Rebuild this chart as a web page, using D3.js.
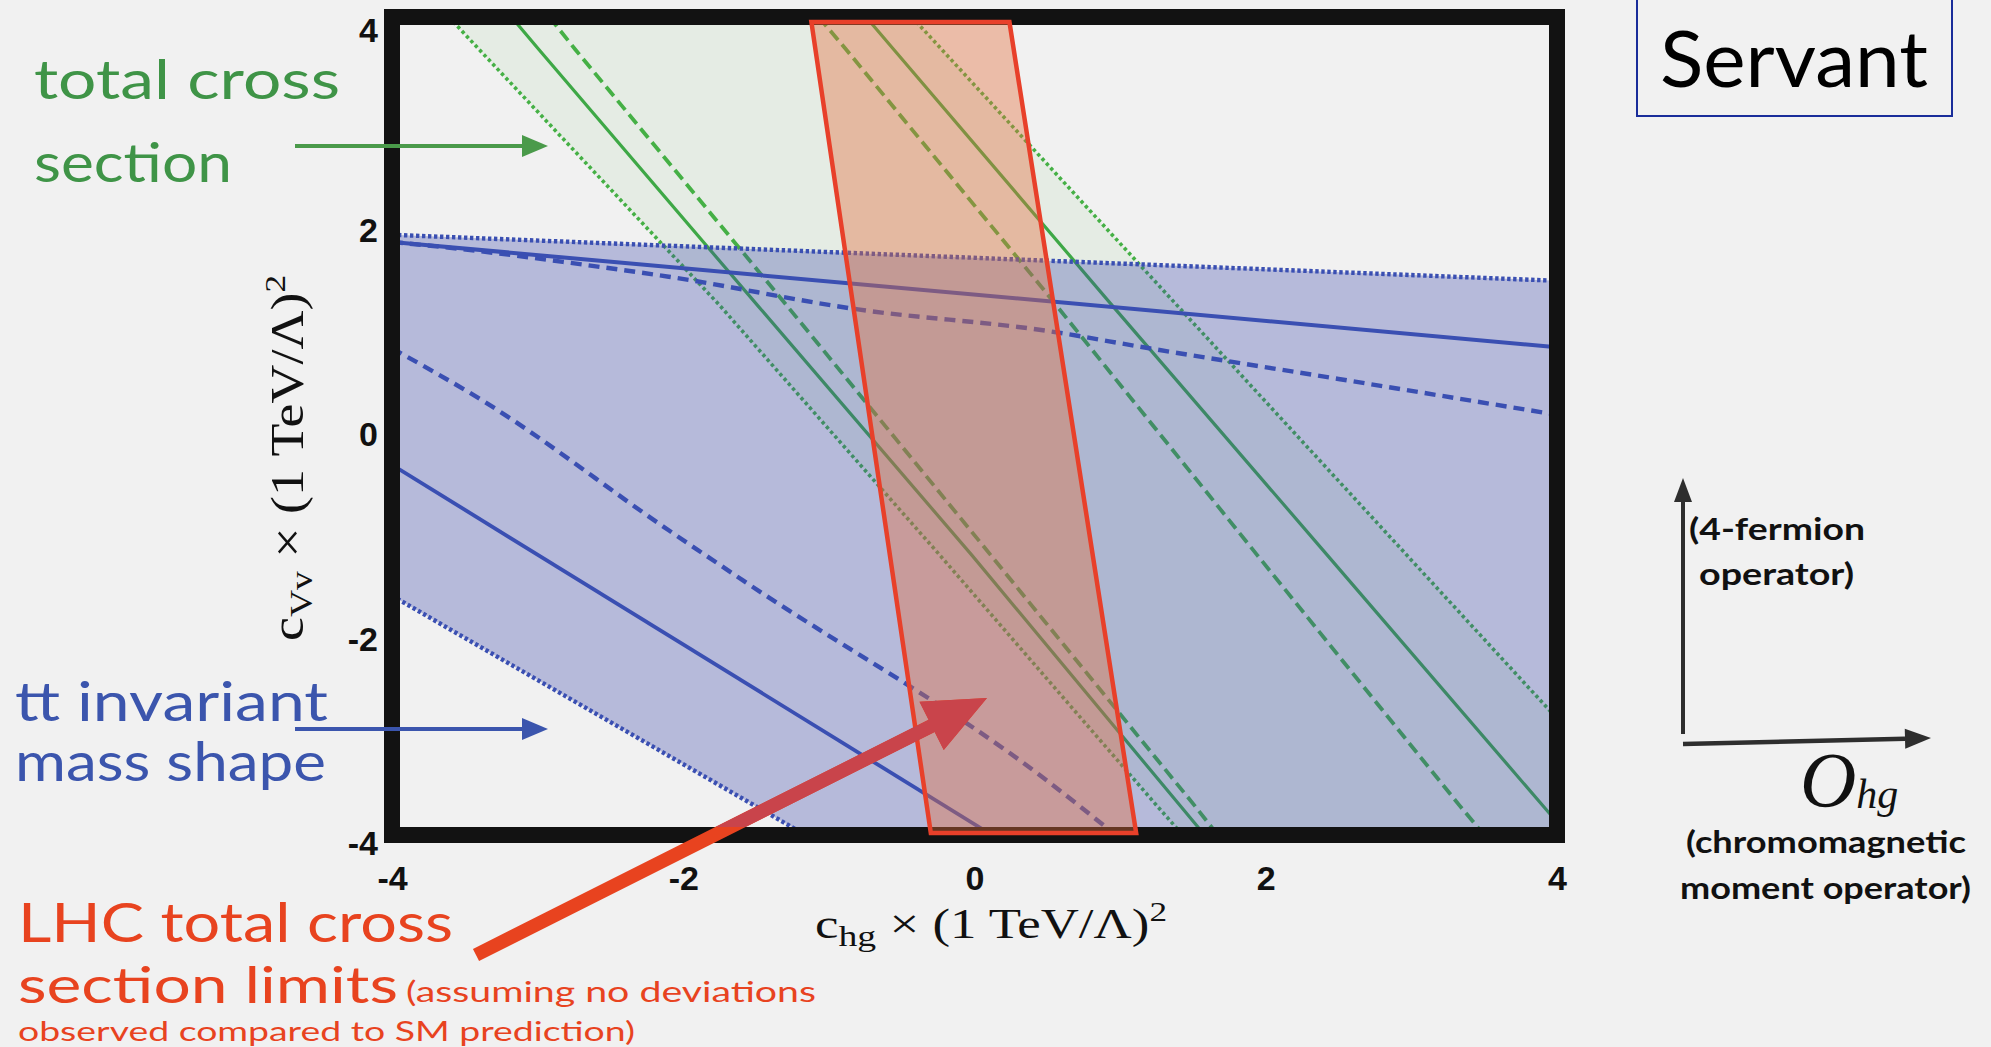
<!DOCTYPE html>
<html>
<head>
<meta charset="utf-8">
<script src="https://cdn.jsdelivr.net/npm/d3@7"></script>
<style>
  html, body { margin: 0; padding: 0; background: #f1f1f1; }
  svg { display: block; }
</style>
</head>
<body>
<svg id="chart" width="1991" height="1047"></svg>
<script>
// ---- axis ticks ----
const xTicks = [-4, -2, 0, 2, 4];
const yTicks = [-4, -2, 0, 2, 4];

// ---- t-tbar invariant mass shape contours: [c_hg, c_Vv] ----
const massUpperDotted  = [[-4, 1.87], [4, 1.42]];
const massUpperSolid   = [[-4, 1.80], [4, 0.77]];
const massUpperDashed  = [[-4, 1.80], [-3.4, 1.71], [-2.8, 1.60], [-2.1, 1.46], [-0.8, 1.14], [0.5, 0.93], [1.2, 0.76], [2.5, 0.46], [4, 0.11]];
const massLowerDashed  = [[-4, 0.76], [-3.38, 0.25], [-2.1, -1.02], [-1.59, -1.51], [0.49, -3.46], [0.97, -4]];
const massLowerSolid   = [[-4, -0.38], [0.12, -4]];
const massLowerDotted  = [[-4, -1.66], [-1.16, -4]];

// ---- Tevatron total cross section contours: [c_hg, c_Vv] ----
const xsecLeftDotted   = [[-3.61, 4], [-3.40, 3.68], [-1.75, 1.18], [-0.24, -1.26], [1.25, -3.71], [1.43, -4]];
const xsecLeftSolid    = [[-3.18, 4], [-2.99, 3.68], [-1.49, 1.18], [-0.02, -1.26], [1.41, -3.71], [1.58, -4]];
const xsecLeftDashed   = [[-2.92, 4], [-2.74, 3.68], [-1.29, 1.18], [0.11, -1.26], [1.51, -3.71], [1.67, -4]];
const xsecRightDashed  = [[-1.07, 4], [-0.88, 3.68], [0.46, 1.36], [1.94, -1.26], [3.33, -3.71], [3.50, -4]];
const xsecRightSolid   = [[-0.745, 4], [-0.553, 3.68], [0.945, 1.18], [2.421, -1.26], [4.076, -4]];
const xsecRightDotted  = [[-0.43, 4], [4, -2.86]];

// ---- LHC total cross section band: [c_hg, c_Vv] ----
const lhcBand = [[-1.12, 3.95], [0.24, 3.95], [1.11, -3.98], [-0.30, -3.98]];

// ---- colours ----
const C = {
  bg: "#f1f1f1",
  frame: "#121212",
  blueLine: "#3a4fb2",
  blueFill: "rgba(60,70,170,0.32)",
  greenLine: "#45b045",
  greenSolid: "#3ea846",
  greenFill: "rgba(110,190,100,0.09)",
  redLine: "#e8402a",
  redFill: "rgba(228,110,60,0.40)",
  greenText: "#3f9447",
  blueText: "#3b55ad",
  redText: "#e8431f",
  redArrowIn: "#c9444b"
};

const svg = d3.select("#chart");
svg.append("rect").attr("width", 1991).attr("height", 1047).attr("fill", C.bg);

const x = d3.scaleLinear().domain([-4, 4]).range([392, 1557]);
const y = d3.scaleLinear().domain([-4, 4]).range([835, 17]);
const line = d3.line().x(d => x(d[0])).y(d => y(d[1]));
const smooth = d3.line().x(d => x(d[0])).y(d => y(d[1])).curve(d3.curveMonotoneX);

const defs = svg.append("defs");
defs.append("clipPath").attr("id", "plotClip")
  .append("rect").attr("x", x(-4)).attr("y", y(4))
  .attr("width", x(4) - x(-4)).attr("height", y(-4) - y(4));
defs.append("clipPath").attr("id", "innerClip")
  .append("rect").attr("x", x(-4) + 8).attr("y", y(4) + 8)
  .attr("width", x(4) - x(-4) - 16).attr("height", y(-4) - y(4) - 16);

const plot = svg.append("g").attr("clip-path", "url(#plotClip)");
const [x0, x1] = x.domain();
const [y0] = y.domain();

// green band (total cross section)
const greenArea = xsecLeftDotted.concat([[x1, y0]], xsecRightDotted.slice().reverse());
plot.append("path").attr("d", line(greenArea) + "Z").attr("fill", C.greenFill);

const greenStyles = [
  [xsecLeftDotted, "3.4,3", 3.6, C.greenLine],
  [xsecLeftSolid, null, 3.2, C.greenSolid],
  [xsecLeftDashed, "12,6", 3.8, C.greenLine],
  [xsecRightDashed, "12,6", 3.8, C.greenLine],
  [xsecRightSolid, null, 3.2, C.greenSolid],
  [xsecRightDotted, "3.4,3", 3.6, C.greenLine]
];
greenStyles.forEach(([pts, dash, w, col]) => {
  plot.append("path").attr("d", line(pts)).attr("fill", "none")
    .attr("stroke", col).attr("stroke-width", w)
    .attr("stroke-dasharray", dash);
});

// blue band (invariant mass shape)
const blueArea = massUpperDotted.concat([[x1, y0]], massLowerDotted.slice().reverse());
plot.append("path").attr("d", line(blueArea) + "Z").attr("fill", C.blueFill);

const blueStyles = [
  [massUpperDotted, "3.4,2.6", 4.4],
  [massUpperSolid, null, 4],
  [massUpperDashed, "11,7", 4.4],
  [massLowerDashed, "11,7", 4.4],
  [massLowerSolid, null, 3.8],
  [massLowerDotted, "3.4,2.6", 4.4]
];
blueStyles.forEach(([pts, dash, w]) => {
  plot.append("path").attr("d", smooth(pts)).attr("fill", "none")
    .attr("stroke", C.blueLine).attr("stroke-width", w)
    .attr("stroke-dasharray", dash);
});

// frame
svg.append("rect")
  .attr("x", x(-4)).attr("y", y(4))
  .attr("width", x(4) - x(-4)).attr("height", y(-4) - y(4))
  .attr("fill", "none").attr("stroke", C.frame).attr("stroke-width", 16);

// LHC band
svg.append("path").attr("d", line(lhcBand) + "Z")
  .attr("fill", C.redFill).attr("stroke", C.redLine)
  .attr("stroke-width", 4.5).attr("stroke-linejoin", "miter");

// ticks
const tickFont = "'Liberation Sans Narrow', 'Liberation Sans', Arial, sans-serif";
const xAxis = svg.append("g").attr("transform", "translate(0,866)")
  .call(d3.axisBottom(x).tickValues(xTicks).tickSize(0).tickPadding(0).tickFormat(d => String(d)));
xAxis.select(".domain").remove();
xAxis.selectAll("text").attr("font-family", tickFont).attr("font-weight", 700)
  .attr("font-size", 34).attr("fill", "#111");

const yAxis = svg.append("g").attr("transform", "translate(384,0)")
  .call(d3.axisLeft(y).tickValues(yTicks).tickSize(0).tickPadding(6).tickFormat(d => String(d)));
yAxis.select(".domain").remove();
yAxis.selectAll("text").attr("font-family", tickFont).attr("font-weight", 700)
  .attr("font-size", 34).attr("fill", "#111")
  .attr("dy", d => d === 4 ? "0.72em" : "0.58em");

// axis titles
const serif = "'Liberation Serif', 'DejaVu Serif', serif";
const xt = svg.append("text").attr("x", 991).attr("y", 938)
  .attr("text-anchor", "middle").attr("font-family", serif)
  .attr("font-size", 42).attr("fill", "#111")
  .attr("textLength", 352).attr("lengthAdjust", "spacingAndGlyphs");
xt.append("tspan").text("c");
xt.append("tspan").attr("font-size", 30).attr("dy", 8).text("hg");
xt.append("tspan").attr("dy", -8).text(" × (1 TeV/Λ)");
xt.append("tspan").attr("font-size", 28).attr("dy", -17).text("2");

const yt = svg.append("text")
  .attr("transform", "translate(303,458) rotate(-90)")
  .attr("text-anchor", "middle").attr("font-family", serif)
  .attr("font-size", 46).attr("fill", "#111")
  .attr("textLength", 366).attr("lengthAdjust", "spacingAndGlyphs");
yt.append("tspan").text("c");
yt.append("tspan").attr("font-size", 32).attr("dy", 9).text("Vv");
yt.append("tspan").attr("dy", -9).text(" × (1 TeV/Λ)");
yt.append("tspan").attr("font-size", 30).attr("dy", -18).text("2");

// annotations
const hand = "Lato, 'Open Sans', sans-serif";
function label(txt, px, py, size, col, len, weight) {
  const t = svg.append("text").attr("x", px).attr("y", py)
    .attr("font-family", hand).attr("font-size", size).attr("fill", col)
    .attr("font-weight", weight || 400).text(txt);
  if (len) t.attr("textLength", len).attr("lengthAdjust", "spacingAndGlyphs");
  return t;
}
function arrow(xa, ya, xb, yb, col, w, headL, headW) {
  const dx = xb - xa, dy = yb - ya, L = Math.hypot(dx, dy);
  const ux = dx / L, uy = dy / L, nx = -uy, ny = ux;
  const bx = xb - ux * headL, by = yb - uy * headL;
  const g = svg.append("g");
  g.append("line").attr("x1", xa).attr("y1", ya).attr("x2", bx).attr("y2", by)
    .attr("stroke", col).attr("stroke-width", w);
  g.append("path").attr("fill", col)
    .attr("d", `M${xb},${yb}L${bx + nx * headW},${by + ny * headW}L${bx - nx * headW},${by - ny * headW}Z`);
  return g;
}

label("total cross", 34, 99, 54, C.greenText, 306);
label("section", 34, 182, 54, C.greenText, 198);
arrow(295, 146, 548, 146, "#4a9a4a", 4, 26, 11);

label("tt invariant", 15, 721, 54, C.blueText, 313);
label("mass shape", 15, 781, 54, C.blueText, 311);
arrow(295, 729, 548, 729, "#3b55ad", 4, 26, 11);

label("LHC total cross", 18, 942, 54, C.redText, 435);
label("section limits", 18, 1003, 50, C.redText, 380);
label("(assuming no deviations", 406, 1002, 28, C.redText, 410);
label("observed compared to SM prediction)", 18, 1041, 27, C.redText, 617);

// red pointer: bright outside the frame, darker over the plot
function redArrow(col, clip) {
  const xa = 476, ya = 955, xb = 987, yb = 698;
  const dx = xb - xa, dy = yb - ya, L = Math.hypot(dx, dy);
  const ux = dx / L, uy = dy / L, nx = -uy, ny = ux;
  const hl = 62, hw = 27, sw = 6.8;
  const bx = xb - ux * hl, by = yb - uy * hl;
  const p = [
    [xa + nx * sw, ya + ny * sw], [bx + nx * sw, by + ny * sw], [bx + nx * hw, by + ny * hw],
    [xb, yb], [bx - nx * hw, by - ny * hw], [bx - nx * sw, by - ny * sw], [xa - nx * sw, ya - ny * sw]
  ];
  const path = svg.append("path").attr("d", "M" + p.map(q => q.join(",")).join("L") + "Z").attr("fill", col);
  if (clip) path.attr("clip-path", clip);
}
redArrow(C.redText, null);
redArrow(C.redArrowIn, "url(#innerClip)");

// Servant box
svg.append("rect").attr("x", 1637).attr("y", -3).attr("width", 315).attr("height", 119)
  .attr("fill", "none").attr("stroke", "#1a2d9a").attr("stroke-width", 2);
svg.append("text").attr("x", 1660).attr("y", 87)
  .attr("font-family", "Lato, 'Open Sans', sans-serif").attr("font-size", 78)
  .attr("fill", "#000").attr("textLength", 268).attr("lengthAdjust", "spacingAndGlyphs")
  .text("Servant");

// operator-space sketch
arrow(1683, 734, 1683, 478, "#2e2e2e", 4, 24, 9);
arrow(1683, 744, 1931, 738, "#2e2e2e", 4.5, 26, 10);
label("(4-fermion", 1689, 540, 30, "#111", 176, 700);
label("operator)", 1699, 585, 30, "#111", 155, 700);
label("(chromomagnetic", 1686, 853, 30, "#111", 280, 700);
label("moment operator)", 1680, 899, 30, "#111", 291, 700);

const oh = svg.append("text").attr("x", 1800).attr("y", 806)
  .attr("font-family", serif).attr("font-style", "italic").attr("fill", "#111");
oh.append("tspan").attr("font-size", 78).text("O");
oh.append("tspan").attr("font-size", 42).attr("dy", 2).text("hg");
</script>
</body>
</html>
